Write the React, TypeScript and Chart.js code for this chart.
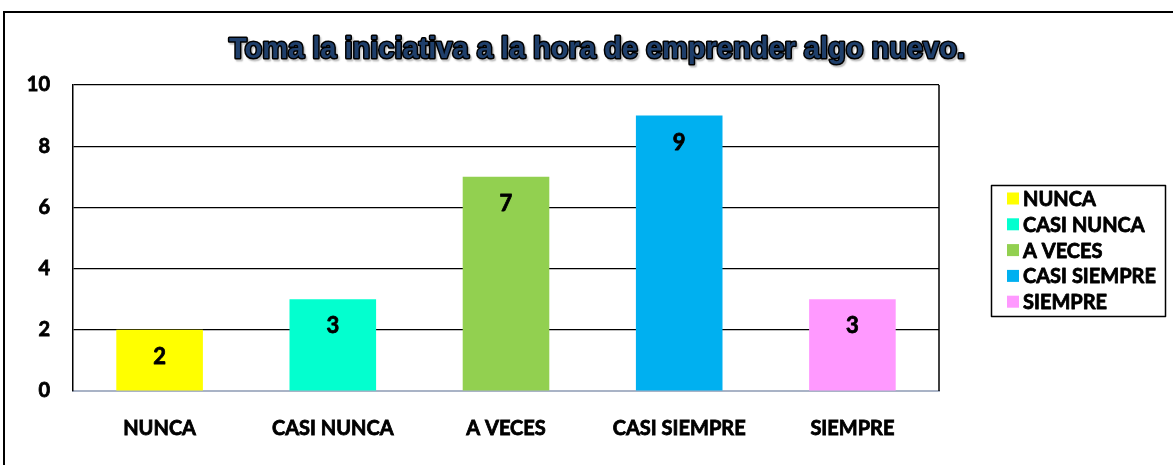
import React, { useEffect, useRef } from "react";
import { Chart, registerables } from "chart.js";

Chart.register(...registerables);

const TITLE = "Toma la iniciativa a la hora de emprender algo nuevo.";
const CATEGORIES = ["NUNCA", "CASI NUNCA", "A VECES", "CASI SIEMPRE", "SIEMPRE"];
const VALUES = [2, 3, 7, 9, 3];
const COLORS = ["#FFFF00", "#03FFCF", "#92D050", "#00B0F0", "#FF99FF"];
const Y_MIN = 0;
const Y_MAX = 10;
const Y_STEP = 2;

const LABEL_FONT = "Lato";
const LABEL_WEIGHT = "bold";
const HEAVY = 0.8;

const framePlugin = {
  id: "frame",
  beforeDraw(chart: any) {
    const { ctx } = chart;
    ctx.save();
    ctx.fillStyle = "#ffffff";
    ctx.fillRect(0, 0, chart.width, chart.height);
    ctx.strokeStyle = "#000000";
    ctx.lineWidth = 2;
    ctx.beginPath();
    ctx.moveTo(4, chart.height + 5);
    ctx.lineTo(4, 12);
    ctx.lineTo(chart.width + 5, 12);
    ctx.stroke();
    ctx.restore();
  },
  afterDraw(chart: any) {
    const { ctx, chartArea } = chart;
    ctx.save();
    // right border of plot area
    ctx.strokeStyle = "#000000";
    ctx.lineWidth = 1.5;
    ctx.beginPath();
    ctx.moveTo(chartArea.right, chartArea.top);
    ctx.lineTo(chartArea.right, chartArea.bottom);
    ctx.stroke();

    // title
    ctx.font = `bold 29px "Liberation Sans", Arial, sans-serif`;
    ctx.textAlign = "center";
    ctx.textBaseline = "middle";
    ctx.shadowColor = "rgba(0,0,0,0.25)";
    ctx.shadowOffsetX = 1.5;
    ctx.shadowOffsetY = 1.5;
    ctx.shadowBlur = 1.5;
    ctx.lineJoin = "round";
    ctx.lineWidth = 3;
    ctx.strokeStyle = "#000000";
    ctx.strokeText(TITLE, 597, 50);
    ctx.shadowColor = "transparent";
    ctx.fillStyle = "#1F3F6B";
    ctx.fillText(TITLE, 597, 50);

    // legend
    const lx = 991.5;
    const ly = 185.5;
    ctx.lineWidth = 1.5;
    ctx.strokeStyle = "#000000";
    ctx.strokeRect(lx, ly, 174, 131);
    ctx.font = `${LABEL_WEIGHT} 20px "${LABEL_FONT}", sans-serif`;
    ctx.textAlign = "left";
    ctx.lineWidth = HEAVY;
    ctx.lineJoin = "round";
    CATEGORIES.forEach((c, i) => {
      const cy = 198.5 + i * 25.8;
      ctx.fillStyle = COLORS[i];
      ctx.fillRect(1007, cy - 6, 12, 12);
      ctx.fillStyle = "#000000";
      ctx.fillText(c, 1023, cy + 1);
      ctx.strokeText(c, 1023, cy + 1);
    });
    ctx.restore();
  },
  afterDatasetsDraw(chart: any) {
    const { ctx } = chart;
    const meta = chart.getDatasetMeta(0);
    ctx.save();
    ctx.font = `${LABEL_WEIGHT} 22px "${LABEL_FONT}", sans-serif`;
    ctx.fillStyle = "#000000";
    ctx.strokeStyle = "#000000";
    ctx.lineWidth = HEAVY;
    ctx.lineJoin = "round";
    ctx.textAlign = "center";
    ctx.textBaseline = "middle";
    meta.data.forEach((el: any, i: number) => {
      ctx.fillText(String(VALUES[i]), el.x, el.y + 27);
      ctx.strokeText(String(VALUES[i]), el.x, el.y + 27);
    });
    ctx.restore();
  },
};

export default function App() {
  const ref = useRef<HTMLCanvasElement>(null);

  useEffect(() => {
    if (!ref.current) return;
    const chart = new Chart(ref.current, {
      type: "bar",
      data: {
        labels: CATEGORIES,
        datasets: [
          {
            data: VALUES,
            backgroundColor: COLORS,
            borderWidth: 0,
            categoryPercentage: 1,
            barPercentage: 0.5,
          },
        ],
      },
      options: {
        responsive: false,
        animation: false,
        layout: { padding: { left: 0, top: 85, right: 234, bottom: 0 } },
        plugins: {
          legend: { display: false },
          title: { display: false },
          tooltip: { enabled: false },
        },
        scales: {
          x: {
            grid: { display: false },
            border: { display: true, color: "#A9B3C6", width: 2 },
            ticks: {
              color: "#000000",
              font: { family: LABEL_FONT, weight: LABEL_WEIGHT, size: 20 },
              textStrokeColor: "#000000",
              textStrokeWidth: HEAVY,
              padding: 18,
              maxRotation: 0,
            },
            afterFit: (s: any) => {
              s.height = 74;
            },
          },
          y: {
            min: Y_MIN,
            max: Y_MAX,
            ticks: {
              stepSize: Y_STEP,
              color: "#000000",
              font: { family: LABEL_FONT, weight: LABEL_WEIGHT, size: 20 },
              textStrokeColor: "#000000",
              textStrokeWidth: HEAVY,
              padding: 23,
            },
            grid: {
              drawTicks: false,
              color: (c: any) => (c.tick && c.tick.value === 0 ? "rgba(0,0,0,0)" : "#000000"),
              lineWidth: 1.2,
            },
            border: { display: true, color: "#000000", width: 1.5 },
            afterFit: (s: any) => {
              s.width = 73;
            },
          },
        },
      },
      plugins: [framePlugin],
    });
    return () => chart.destroy();
  }, []);

  return (
    <div style={{ position: "absolute", left: 0, top: 0, width: 1173, height: 465, background: "#fff" }}>
      <canvas ref={ref} width={1173} height={465} style={{ width: 1173, height: 465, display: "block" }} />
    </div>
  );
}
